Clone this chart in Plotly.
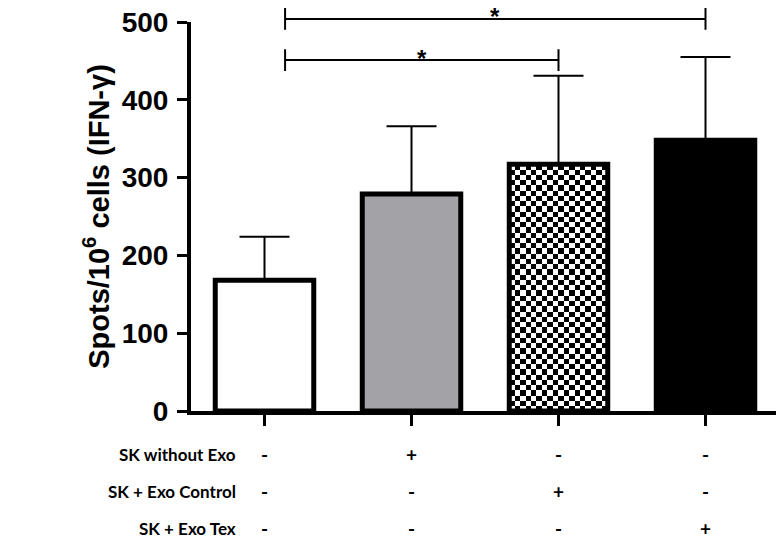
import numpy as np
import plotly.graph_objects as go

# ---- data ----
groups = ["SK", "SK without Exo", "SK + Exo Control", "SK + Exo Tex"]
means = [168, 279, 317, 348]
err_up = [56, 87, 114, 107]
fills = ["white", "#a3a3a7", "checker", "black"]

row_labels = ["SK without Exo", "SK + Exo Control", "SK + Exo Tex"]
row_signs = [["-", "+", "-", "-"],
             ["-", "-", "+", "-"],
             ["-", "-", "-", "+"]]

comparisons = [(0, 2, "*"), (0, 3, "*")]
bracket_levels = [451, 504]

y_ticks = [0, 100, 200, 300, 400, 500]
y_max = 500

# ---- layout constants ----
W, H = 784, 541
ML, MR, MT, MB = 183, 13, 14, 138
bar_w = 0.67
plot_h = H - MT - MB
px_per_unit = plot_h / y_max
cell_px = 5.3

xpos = list(range(len(groups)))
fig = go.Figure()

# checker texture beneath the patterned bar
for i, f in enumerate(fills):
    if f == "checker":
        nx = 18
        ny = int(round(means[i] * px_per_unit / cell_px))
        z = np.indices((ny, nx)).sum(axis=0) % 2
        fig.add_trace(go.Heatmap(
            z=z, x0=xpos[i] - bar_w / 2 + bar_w / nx / 2, dx=bar_w / nx,
            y0=means[i] / ny / 2, dy=means[i] / ny,
            colorscale=[[0, "white"], [1, "black"]], showscale=False,
            zsmooth=False, hoverinfo="skip"))

bar_colors = ["rgba(0,0,0,0)" if f == "checker" else f for f in fills]
fig.add_trace(go.Bar(
    x=xpos, y=means, width=bar_w,
    marker=dict(color=bar_colors, line=dict(color="black", width=5)),
    error_y=dict(type="data", array=err_up, arrayminus=[0] * len(means),
                 symmetric=False, color="black", thickness=2, width=25),
    showlegend=False))

# significance brackets
shapes = []
annotations = []
left_off = 0.14
tick_half = 14
for (a, b, txt), lvl in zip(comparisons, bracket_levels):
    xa = xpos[a] + left_off
    xb = xpos[b]
    yl = lvl / y_max
    th = tick_half / y_max
    line = dict(color="black", width=2)
    shapes.append(dict(type="line", xref="x", yref="paper", x0=xa, x1=xb, y0=yl, y1=yl, line=line))
    shapes.append(dict(type="line", xref="x", yref="paper", x0=xa, x1=xa, y0=yl - th, y1=yl + th, line=line))
    shapes.append(dict(type="line", xref="x", yref="paper", x0=xb, x1=xb, y0=yl - th, y1=yl + th, line=line))
    annotations.append(dict(x=(xa + xb) / 2, y=yl, xref="x", yref="paper", text="<b>" + txt + "</b>",
                            showarrow=False, yanchor="middle", yshift=2,
                            font=dict(family="Liberation Sans", size=24, color="black")))

# table below the axis (row offsets in px below the x axis)
row_off_px = [43, 80, 117]
for r, lab in enumerate(row_labels):
    yp = -row_off_px[r] / plot_h
    annotations.append(dict(x=xpos[0] - 0.18, y=yp, xref="x", yref="paper",
                            text="<b>" + lab + "</b>", showarrow=False,
                            xanchor="right", yanchor="middle",
                            font=dict(family="Lato", size=17, color="black")))
    for c, s in enumerate(row_signs[r]):
        annotations.append(dict(x=xpos[c], y=yp, xref="x", yref="paper",
                                text="<b>" + s + "</b>", showarrow=False,
                                xanchor="center", yanchor="middle",
                                font=dict(family="Lato", size=19, color="black")))

fig.update_layout(
    width=W, height=H,
    margin=dict(l=ML, r=MR, t=MT, b=MB, autoexpand=False),
    plot_bgcolor="white", paper_bgcolor="white",
    shapes=shapes, annotations=annotations,
    showlegend=False,
    xaxis=dict(range=[-0.5, 3.5], tickvals=xpos, showticklabels=False,
               showline=True, linecolor="black", linewidth=4,
               ticks="outside", ticklen=11, tickwidth=3, tickcolor="black",
               showgrid=False, zeroline=False, fixedrange=True, automargin=False),
    yaxis=dict(range=[0, y_max], tickvals=y_ticks,
               showline=True, linecolor="black", linewidth=4,
               ticks="outside", ticklen=10, tickwidth=3, tickcolor="black",
               ticklabelstandoff=3, ticklabeloverflow="allow", automargin=False,
               showgrid=False, zeroline=False,
               tickfont=dict(family="Liberation Sans", size=28, color="black", weight="bold"),
               title=dict(text="<b>Spots/10<sup>6</sup> cells (IFN-γ)</b>", standoff=5,
                          font=dict(family="Liberation Sans", size=29, color="black"))),
)

fig.write_html("out.html")
